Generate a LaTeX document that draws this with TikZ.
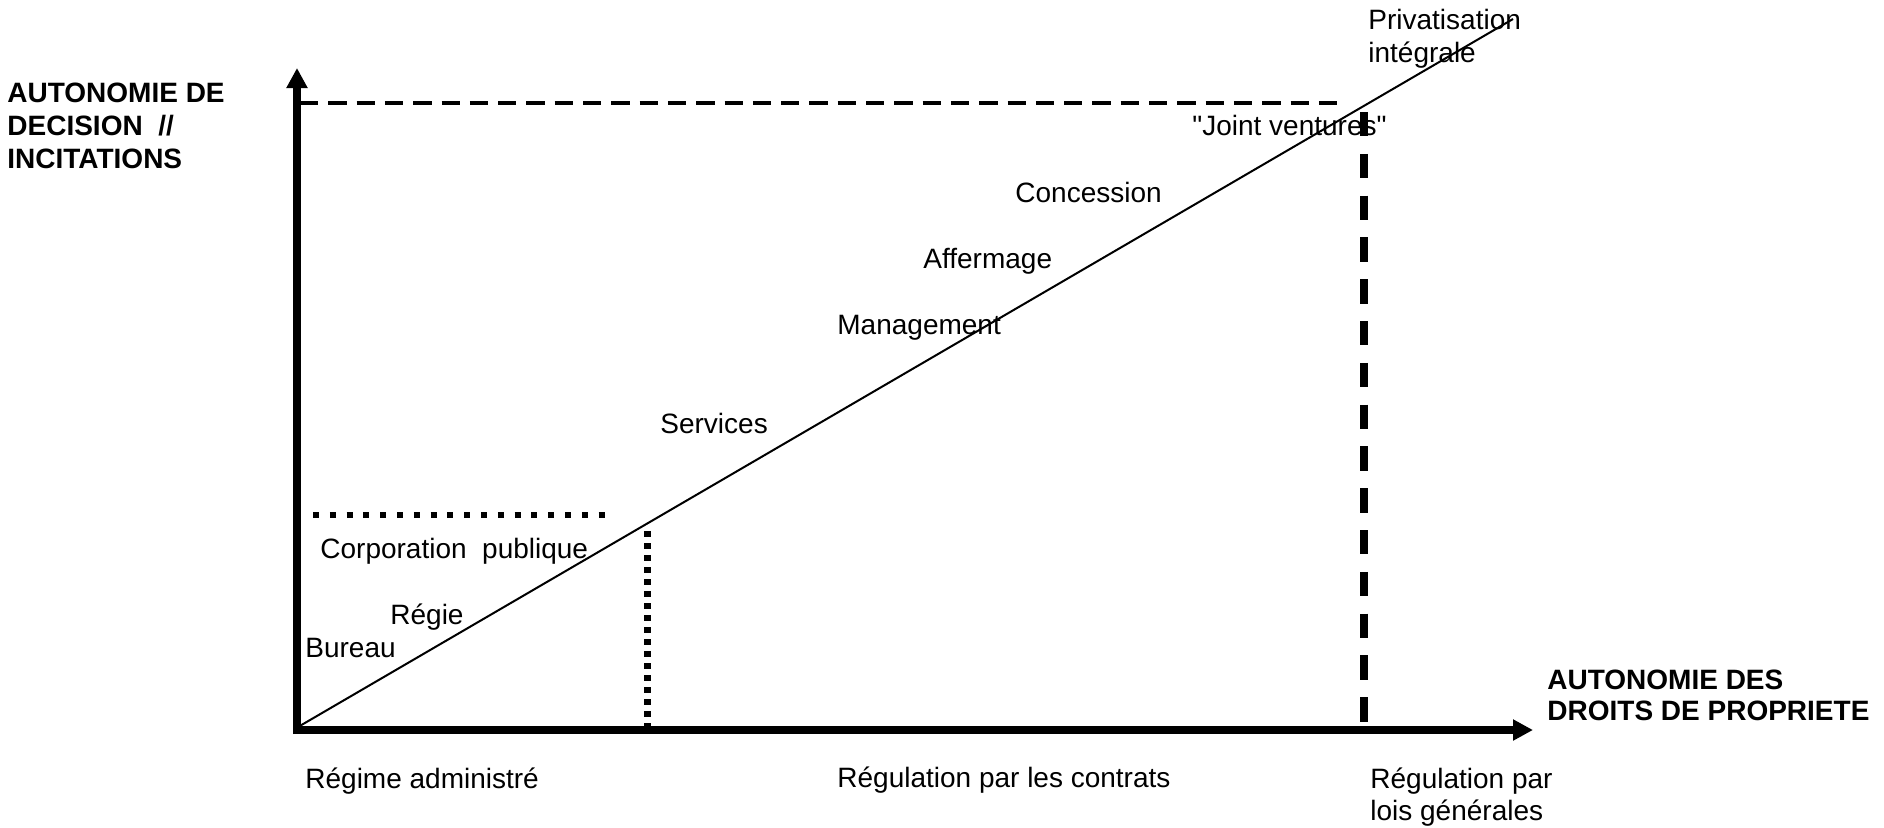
\documentclass[tikz,border=0pt]{standalone}
\usepackage{fontspec}
\setmainfont{Liberation Sans}[Ligatures=TeXOff]
\usetikzlibrary{arrows.meta}

\begin{document}
\begin{tikzpicture}[x=0.5pt,y=-0.5pt,
  lbl/.style={anchor=base west, inner sep=0pt, font=\fontsize{14pt}{16pt}\selectfont},
  boldlbl/.style={lbl, font=\fontsize{14pt}{16pt}\selectfont\bfseries},
  axis/.style={line width=4pt, -{Triangle[length=10pt,width=10pt]}},
  diag/.style={line width=1pt},
  topdash/.style={line width=2.2pt, dash pattern=on 9.15pt off 5pt},
  thickdash/.style={line width=4pt, dash pattern=on 12.15pt off 8.75pt},
  hdots/.style={line width=3pt, dash pattern=on 3pt off 5.4pt},
  vdots/.style={line width=3.5pt, dash pattern=on 3pt off 3pt}]

\useasboundingbox (0,0) rectangle (1884,827);

% key points of the frame
\coordinate (ystart) at (297,734);
\coordinate (ytip) at (297,68);
\coordinate (xstart) at (293,730);
\coordinate (xtip) at (1533,730);
\coordinate (dstart) at (298,727);
\coordinate (dend) at (1513,19);
\coordinate (hdA) at (300,103);
\coordinate (hdB) at (1338,103);
\coordinate (vdA) at (1364,112);
\coordinate (vdB) at (1364,730);
\coordinate (hpA) at (313,515);
\coordinate (hpB) at (606,515);
\coordinate (vpA) at (647.5,531);
\coordinate (vpB) at (647.5,730);

% limits of the regimes
\draw[topdash] (hdA) -- (hdB);
\draw[thickdash] (vdA) -- (vdB);
\draw[hdots] (hpA) -- (hpB);
\draw[vdots] (vpA) -- (vpB);

% axes and the diagonal
\draw[axis] (ystart) -- (ytip);
\draw[axis] (xstart) -- (xtip);
\draw[diag] (dstart) -- (dend);

% axis titles
\node[boldlbl] (y1) at (7,102) {AUTONOMIE DE};
\node[boldlbl] (y2) at (7,135) {DECISION~~//};
\node[boldlbl] (y3) at (7,168) {INCITATIONS};
\node[boldlbl] (x1) at (1547,689) {AUTONOMIE DES};
\node[boldlbl] (x2) at (1547,720) {DROITS DE PROPRIETE};

% forms of organisation along the diagonal
\node[lbl] (priv1) at (1368,29) {Privatisation};
\node[lbl] (priv2) at (1368,62) {intégrale};
\node[lbl] (jv) at (1192,135) {"Joint ventures"};
\node[lbl] (conc) at (1015,202) {Concession};
\node[lbl] (aff) at (923,268) {Affermage};
\node[lbl] (mgmt) at (837,334) {Management};
\node[lbl] (serv) at (660,433) {Services};
\node[lbl] (corp) at (320,558) {Corporation~~publique};
\node[lbl] (regie) at (390,624) {Régie};
\node[lbl] (bur) at (305,657) {Bureau};

% regimes under the horizontal axis
\node[lbl] (adm) at (305,788) {Régime administré};
\node[lbl] (contr) at (837,787) {Régulation par les contrats};
\node[lbl] (lois1) at (1370,788) {Régulation par};
\node[lbl] (lois2) at (1370,820) {lois générales};

\end{tikzpicture}
\end{document}
